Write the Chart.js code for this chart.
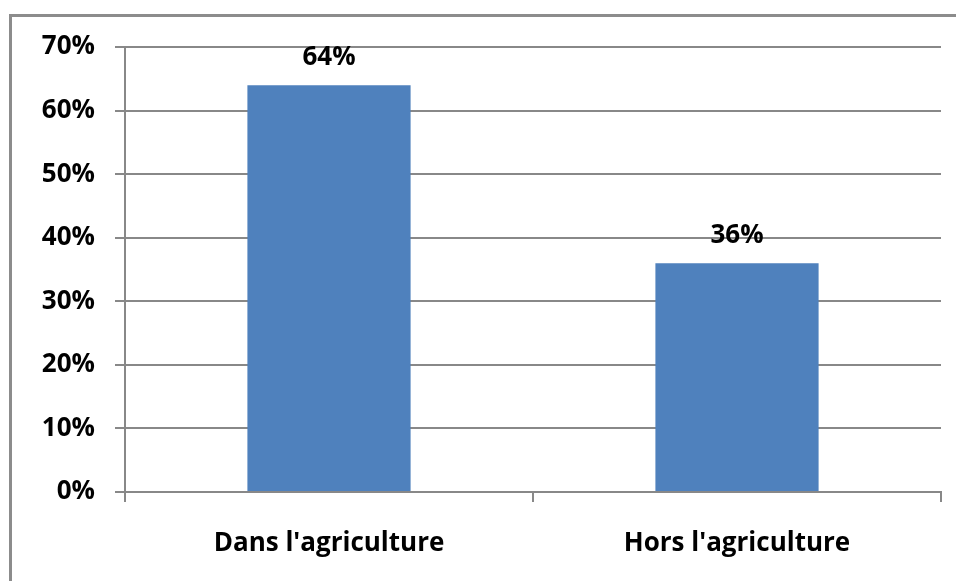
<!DOCTYPE html>
<html>
<head>
<meta charset="utf-8">
<script src="https://cdn.jsdelivr.net/npm/chart.js@4"></script>
<style>
html,body{margin:0;padding:0;background:#fff;}
#wrap{position:relative;width:956px;height:581px;overflow:hidden;}
#frame{position:absolute;left:9px;top:14px;width:1000px;height:600px;border:3px solid #8c8c8c;box-sizing:border-box;}
canvas{position:absolute;left:0;top:0;}
</style>
</head>
<body>
<div id="wrap">
<div id="frame"></div>
<canvas id="c" width="956" height="581"></canvas>
</div>
<script>
const categories = ["Dans l'agriculture", "Hors l'agriculture"];
const values = [64, 36];
const yTicks = [0, 10, 20, 30, 40, 50, 60, 70];

const FONT = "'Open Sans', 'Liberation Sans', sans-serif";

const labelPlugin = {
  id: 'valueLabels',
  afterDatasetsDraw(chart) {
    const ctx = chart.ctx;
    const meta = chart.getDatasetMeta(0);
    ctx.save();
    ctx.font = "bold 26px " + FONT;
    ctx.fillStyle = '#000';
    ctx.textAlign = 'center';
    ctx.textBaseline = 'middle';
    meta.data.forEach((bar, i) => {
      ctx.fillText(values[i] + '%', bar.x, bar.y - 28);
    });
    ctx.restore();
  }
};

new Chart(document.getElementById('c'), {
  type: 'bar',
  data: {
    labels: categories,
    datasets: [{
      data: values,
      backgroundColor: '#4f81bd',
      borderWidth: 0,
      categoryPercentage: 1,
      barPercentage: 0.4
    }]
  },
  options: {
    responsive: false,
    animation: false,
    events: [],
    layout: { padding: { left: 0, top: 47, right: 15, bottom: 0 } },
    plugins: { legend: { display: false }, tooltip: { enabled: false } },
    scales: {
      x: {
        grid: { offset: true, drawOnChartArea: false, drawTicks: true, tickLength: 10, color: '#888', lineWidth: 2 },
        border: { color: '#888', width: 2 },
        ticks: { font: { family: FONT, size: 26, weight: 'bold' }, color: '#000', padding: 26, maxRotation: 0 },
        afterFit(s) { s.height = 89; }
      },
      y: {
        min: 0, max: 70,
        grid: { color: '#888', lineWidth: 2, tickLength: 10 },
        border: { color: '#888', width: 2 },
        afterBuildTicks(s) { s.ticks = yTicks.map(v => ({ value: v })); },
        ticks: { font: { family: FONT, size: 26, weight: 'bold' }, color: '#000', padding: 20,
          callback: v => v + '%' },
        afterFit(s) { s.width = 125; }
      }
    }
  },
  plugins: [labelPlugin]
});
</script>
</body>
</html>
